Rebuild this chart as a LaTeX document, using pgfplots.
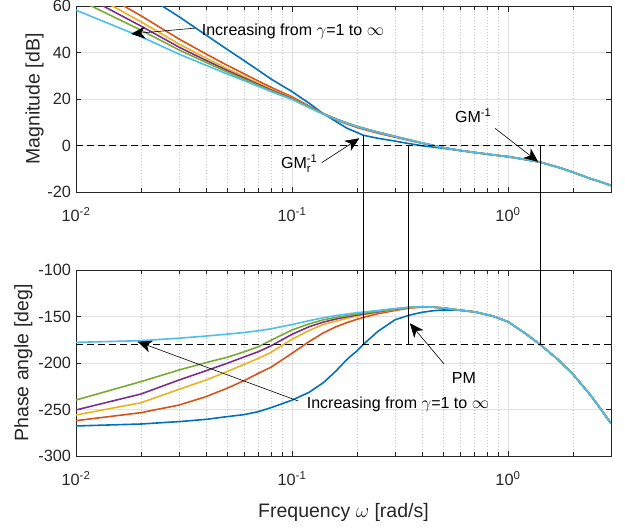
\documentclass[border=0pt]{standalone}
\usepackage{fontspec}
\setmainfont{Liberation Sans}
\usepackage{amsmath}
\usepackage{pgfplots}
\usepackage{pgfplotstable}
\pgfplotsset{compat=1.18}
\usetikzlibrary{arrows.meta}

\definecolor{mblue}{rgb}{0,0.447,0.741}
\definecolor{morange}{rgb}{0.85,0.325,0.098}
\definecolor{myellow}{rgb}{0.929,0.694,0.125}
\definecolor{mpurple}{rgb}{0.494,0.184,0.556}
\definecolor{mgreen}{rgb}{0.466,0.674,0.188}
\definecolor{mcyan}{rgb}{0.301,0.745,0.933}
\definecolor{axgray}{rgb}{0.15,0.15,0.15}

\pgfplotstableread{
w      blue   orange  yellow  purple  green  cyan
0.01   84.0   71.8    68.7    66.2    63.2   58.2
0.02   65.8   55.8    53.2    51.37   49.6   46.8
0.03   55.4   45.8    43.63   42.3    41.1   39.3
0.04   47.5   39.37   37.6    36.6    35.75  34.5
0.05   41.4   34.54   33.1    32.33   31.68  30.8
0.06   36.5   30.85   29.65   29.05   28.52  27.9
0.07   32.3   27.72   26.72   26.26   25.85  25.4
0.08   28.6   25.05   24.22   23.85   23.53  23.2
0.1    23.2   20.96   20.42   20.2    20.0   19.8
0.12   18.2   17.0    16.72   16.57   16.45  16.3
0.14   13.6   13.6    13.7    13.59   13.5   13.4
0.16   10.3   11.0    11.45   11.4    11.32  11.26
0.18   7.4    9.2     9.63    9.6     9.56   9.53
0.2    5.6    7.75    8.19    8.17    8.15   8.1
0.214  4.4    7.0     7.45    7.42    7.4    7.37
0.25   3.1    5.3     5.74    5.73    5.7    5.7
0.3    1.9    3.55    3.9     3.9     3.9    3.9
0.35   0.8    2.15    2.4     2.4     2.4    2.4
0.4    -0.1   0.95    1.1     1.1     1.1    1.1
0.5    -1.2   -0.9    -0.9    -0.9    -0.9   -0.9
0.6    -2.2   -2.1    -2.1    -2.1    -2.1   -2.1
0.7    -3.0   -3.0    -3.0    -3.0    -3.0   -3.0
0.85   -4.0   -4.0    -4.0    -4.0    -4.0   -4.0
1      -4.8   -4.8    -4.8    -4.8    -4.8   -4.8
1.2    -6.0   -6.0    -6.0    -6.0    -6.0   -6.0
1.4    -7.1   -7.1    -7.1    -7.1    -7.1   -7.1
1.7    -9.3   -9.3    -9.3    -9.3    -9.3   -9.3
2      -11.5  -11.5   -11.5   -11.5   -11.5  -11.5
2.4    -14.2  -14.2   -14.2   -14.2   -14.2  -14.2
2.7    -15.7  -15.7   -15.7   -15.7   -15.7  -15.7
3      -17.2  -17.2   -17.2   -17.2   -17.2  -17.2
}\magtable

\pgfplotstableread{
w      blue    orange  yellow  purple  green   cyan
0.01   -267.7  -262    -255.9  -250.5  -239.8  -177.8
0.02   -265.6  -253.4  -242.7  -233.3  -220    -176
0.03   -263    -245.2  -228.3  -218.3  -207.5  -173.3
0.04   -260.6  -236.2  -218.3  -208.3  -199.6  -171
0.05   -257.7  -227.2  -209.3  -200.4  -193.9  -169
0.06   -255.5  -219    -201.5  -193.5  -188    -167.2
0.07   -252.3  -211    -195    -187.8  -182.4  -165.3
0.08   -248    -204.5  -188.5  -181.5  -175.5  -163.2
0.1    -240    -189.6  -174.5  -169.2  -164.5  -158.7
0.12   -231.5  -177    -165    -161    -158    -154.5
0.14   -221    -167.5  -158.5  -156    -153.5  -151.3
0.16   -208.5  -161    -155    -152.7  -151    -149
0.18   -196    -156.5  -152    -150.3  -149.1  -147.3
0.2    -187    -153    -149.4  -148.4  -147.3  -146
0.214  -180    -151    -148    -147.3  -146.4  -145.2
0.25   -166    -147    -145.5  -145    -144.5  -143.5
0.3    -153.5  -143.5  -142.5  -142    -141.8  -141.4
0.35   -148.5  -141    -140.5  -140.3  -140.2  -140.1
0.4    -145.5  -139.9  -139.7  -139.6  -139.5  -139.5
0.45   -143.8  -139.9  -139.9  -139.9  -139.9  -139.9
0.5    -143    -140.8  -140.8  -140.8  -140.8  -140.8
0.6    -143.3  -143.2  -143.2  -143.2  -143.2  -143.2
0.7    -145    -145    -145    -145    -145    -145
0.85   -149.5  -149.5  -149.5  -149.5  -149.5  -149.5
1      -155.6  -155.6  -155.6  -155.6  -155.6  -155.6
1.2    -168    -168    -168    -168    -168    -168
1.4    -179.6  -179.6  -179.6  -179.6  -179.6  -179.6
1.7    -196    -196    -196    -196    -196    -196
2      -212    -212    -212    -212    -212    -212
2.4    -234    -234    -234    -234    -234    -234
2.7    -250    -250    -250    -250    -250    -250
3      -265    -265    -265    -265    -265    -265
}\phasetable

\pgfplotsset{
  mystyle/.style={
    scale only axis, width=535pt, height=186pt,
    xmin=0.01, xmax=3,
    xtick={0.01,0.1,1},
    xticklabels={{10\textsuperscript{-2}},{10\textsuperscript{-1}},{10\textsuperscript{0}}},
    minor xtick={0.02,0.03,0.04,0.05,0.06,0.07,0.08,0.09,0.2,0.3,0.4,0.5,0.6,0.7,0.8,0.9,2,3},
    xmajorgrids, xminorgrids, ymajorgrids,
    major grid style={color=black!12, line width=0.6pt},
    minor grid style={color=black!22, dash pattern=on 0.8pt off 2.2pt, line width=0.5pt},
    axis line style={axgray, line width=0.8pt},
    tick style={axgray, line width=0.7pt},
    major tick length=5.5pt, minor tick length=4pt,
    tick align=inside, tick pos=both,
    tick label style={font=\fontsize{16.3}{16.3}\selectfont, text=axgray},
    xticklabel style={yshift=-12pt},
    yticklabel style={xshift=-1.5pt},
    label style={font=\fontsize{19.5}{19.5}\selectfont, text=axgray},
    clip mode=individual,
  }
}

\begin{document}
\begin{tikzpicture}
\begin{semilogxaxis}[mystyle, at={(0pt,0pt)}, anchor=north west,
  ymin=-20, ymax=60, ytick={-20,0,20,40,60},
  yticklabels={-20,0,20,40,60},
  ylabel={Magnitude [dB]},
  ylabel style={at={(axis description cs:-0.0682,0.5)}, anchor=base},
]
\addplot[mblue, line width=1.6pt] table[x=w,y=blue] {\magtable};
\addplot[morange, line width=1.6pt] table[x=w,y=orange] {\magtable};
\addplot[myellow, line width=1.6pt] table[x=w,y=yellow] {\magtable};
\addplot[mpurple, line width=1.6pt] table[x=w,y=purple] {\magtable};
\addplot[mgreen, line width=1.6pt] table[x=w,y=green] {\magtable};
\addplot[mcyan, line width=1.6pt] table[x=w,y=cyan] {\magtable};
\addplot[black, line width=1.5pt, dash pattern=on 7pt off 4pt] coordinates {(0.01,0) (3,0)};
\node[anchor=base west, inner sep=0pt, font=\fontsize{16}{16}\selectfont] at (axis cs:0.0382,47.1) {Increasing from $\gamma$=1 to $\infty$};
\draw[-{Stealth[length=14pt,width=12pt,inset=4pt]}, line width=0.6pt] (axis cs:0.0356,50.5) -- (axis cs:0.018,48.0);
\node[anchor=base west, inner sep=0pt, font=\fontsize{16}{16}\selectfont] at (axis cs:0.0889,-9.9) {GM$^{\text{-1}}_{\text{r}}$};
\draw[-{Stealth[length=14pt,width=12pt,inset=4pt]}, line width=0.6pt] (axis cs:0.1373,-7.4) -- (axis cs:0.205,3.1);
\node[anchor=base west, inner sep=0pt, font=\fontsize{16}{16}\selectfont] at (axis cs:0.568,9.8) {GM$^{\text{-1}}$};
\draw[-{Stealth[length=14pt,width=12pt,inset=4pt]}, line width=0.6pt] (axis cs:0.871,7.4) -- (axis cs:1.38,-7.0);
\coordinate (t1) at (axis cs:0.214,4.4);
\coordinate (t2) at (axis cs:0.345,0);
\coordinate (t3) at (axis cs:1.406,0);
\end{semilogxaxis}

\begin{semilogxaxis}[mystyle, at={(0pt,-264pt)}, anchor=north west,
  ymin=-300, ymax=-100, ytick={-300,-250,-200,-150,-100},
  yticklabels={-300,-250,-200,-150,-100},
  ylabel={Phase angle [deg]},
  ylabel style={at={(axis description cs:-0.0888,0.5)}, anchor=base},
  xlabel={Frequency $\omega$ [rad/s]},
  xlabel style={at={(axis description cs:0.5,0)}, anchor=center, yshift=-56pt},
]
\addplot[mblue, line width=1.6pt] table[x=w,y=blue] {\phasetable};
\addplot[morange, line width=1.6pt] table[x=w,y=orange] {\phasetable};
\addplot[myellow, line width=1.6pt] table[x=w,y=yellow] {\phasetable};
\addplot[mpurple, line width=1.6pt] table[x=w,y=purple] {\phasetable};
\addplot[mgreen, line width=1.6pt] table[x=w,y=green] {\phasetable};
\addplot[mcyan, line width=1.6pt] table[x=w,y=cyan] {\phasetable};
\addplot[black, line width=1.5pt, dash pattern=on 7pt off 4pt] coordinates {(0.01,-180) (3,-180)};
\node[anchor=base west, inner sep=0pt, font=\fontsize{16}{16}\selectfont] at (axis cs:0.549,-221.8) {PM};
\draw[-{Stealth[length=14pt,width=12pt,inset=4pt]}, line width=0.6pt] (axis cs:0.506,-201) -- (axis cs:0.3515,-157.3);
\node[anchor=base west, inner sep=0pt, font=\fontsize{16}{16}\selectfont] at (axis cs:0.117,-248.7) {Increasing from $\gamma$=1 to $\infty$};
\draw[-{Stealth[length=14pt,width=12pt,inset=4pt]}, line width=0.6pt] (axis cs:0.107,-240.9) -- (axis cs:0.0193,-177.1);
\coordinate (b1) at (axis cs:0.214,-180);
\coordinate (b2) at (axis cs:0.345,-180);
\coordinate (b3) at (axis cs:1.406,-180);
\end{semilogxaxis}

\draw[line width=0.7pt] (t1) -- (b1);
\draw[line width=0.7pt] (t2) -- (b2);
\draw[line width=0.7pt] (t3) -- (b3);

\pgfresetboundingbox
\path[use as bounding box] (-76pt,6pt) rectangle (549pt,-525pt);
\end{tikzpicture}
\end{document}
